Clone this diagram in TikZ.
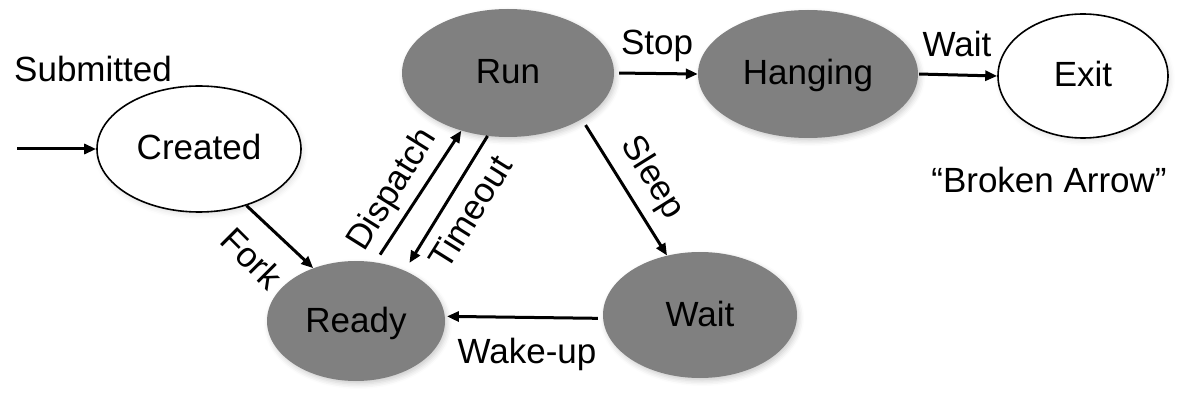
\documentclass[tikz,border=0pt]{standalone}
\usepackage{fontspec}
\setmainfont{Liberation Sans}
\usetikzlibrary{shapes.geometric,arrows.meta,shadows.blur}
\begin{document}
\begin{tikzpicture}[x=1pt,y=-1pt,
  state/.style={ellipse, inner sep=0pt, font=\fontsize{35}{42}\selectfont,
    text height=25pt, text depth=3pt},
  filled/.style={state, fill=gray,
    blur shadow={shadow xshift=2pt, shadow yshift=-3pt, shadow blur radius=5pt, shadow opacity=20}},
  hollow/.style={state, draw=black, line width=1.6pt, fill=white,
    blur shadow={shadow xshift=2pt, shadow yshift=-3pt, shadow blur radius=5pt, shadow opacity=12}},
  lbl/.style={font=\fontsize{35}{42}\selectfont, inner sep=0pt},
  arr/.style={-{Triangle[length=12pt,width=10pt]}, line width=3pt}
]
\useasboundingbox (0,0) rectangle (1178,409);
\node[hollow, minimum width=204pt, minimum height=126pt] (created) at (199,149) {Created};
\node[filled, minimum width=212pt, minimum height=128pt] (run) at (508,73) {Run};
\node[filled, minimum width=220pt, minimum height=128pt] (hanging) at (808,74) {Hanging};
\node[hollow, minimum width=170pt, minimum height=124pt] (exit) at (1083,76) {Exit};
\node[filled, minimum width=178pt, minimum height=120pt] (ready) at (356,321) {Ready};
\node[filled, minimum width=194pt, minimum height=126pt] (wait) at (700,315) {Wait};

\coordinate (entry) at (17,149);
\draw[arr] (entry) -- (created.west);
\draw[arr] (created.-50) -- (ready.129);
\draw[arr, shorten <=9pt] (ready.72) -- (run.231);
\draw[arr, shorten >=9pt] (run.252) -- (ready.46);
\draw[arr, shorten <=7pt] (run.-32) -- (wait.119);
\draw[arr, shorten <=5pt, shorten >=2pt] (wait.182) -- (ready.3);
\draw[arr, shorten <=5pt] (run.east) -- (hanging.west);
\draw[arr, shorten <=1pt] (hanging.east) -- (exit.west);

\node[lbl, anchor=base] (lsub) at (93,82) {Submitted};
\node[lbl, anchor=base] (lstop) at (657,55) {Stop};
\node[lbl, anchor=base] (lwait) at (957,57) {Wait};
\node[lbl, anchor=base] (lbroken) at (1049,192) {“Broken Arrow”};
\node[lbl, anchor=base] (lwake) at (527,363) {Wake-up};
\node[lbl, rotate=-45] (lfork) at (252,258) {Fork};
\node[lbl, rotate=58] (ldisp) at (393,190) {Dispatch};
\node[lbl, rotate=58] (ltime) at (470,212) {Timeout};
\node[lbl, rotate=-58] (lsleep) at (652,178) {Sleep};
\end{tikzpicture}
\end{document}
